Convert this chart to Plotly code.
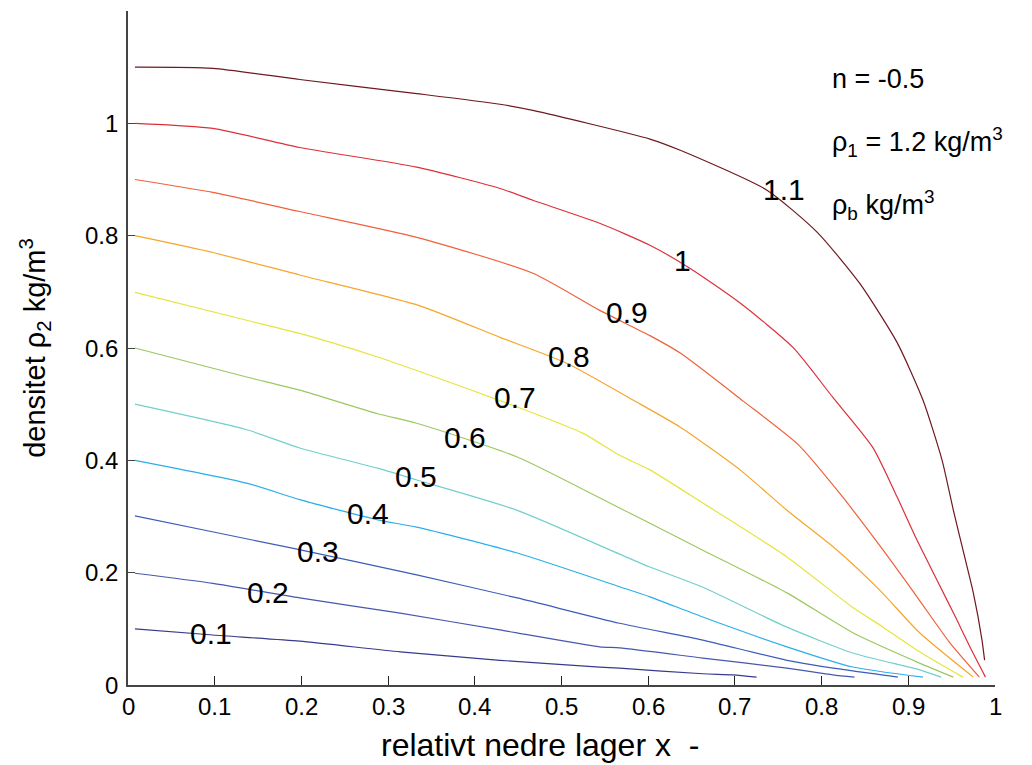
import plotly.graph_objects as go

# contour levels (rho_b)
levels = [0.1, 0.2, 0.3, 0.4, 0.5, 0.6, 0.7, 0.8, 0.9, 1.0, 1.1]
level_text = ["0.1", "0.2", "0.3", "0.4", "0.5", "0.6", "0.7", "0.8", "0.9", "1", "1.1"]

x_01 = [0.008, 0.098, 0.198, 0.314, 0.429, 0.544, 0.567, 0.663, 0.698, 0.725]
y_01 = [0.100, 0.089, 0.078, 0.059, 0.044, 0.032, 0.030, 0.020, 0.018, 0.014]

x_02 = [0.008, 0.098, 0.198, 0.314, 0.429, 0.544, 0.567, 0.663, 0.760, 0.813, 0.838]
y_02 = [0.199, 0.181, 0.155, 0.128, 0.098, 0.068, 0.066, 0.048, 0.030, 0.018, 0.014]

x_03 = [0.008, 0.100, 0.188, 0.333, 0.449, 0.567, 0.663, 0.760, 0.836, 0.888]
y_03 = [0.301, 0.272, 0.244, 0.196, 0.155, 0.110, 0.080, 0.044, 0.025, 0.014]

x_04 = [0.008, 0.138, 0.198, 0.288, 0.333, 0.449, 0.567, 0.602, 0.663, 0.760, 0.836, 0.917]
y_04 = [0.400, 0.359, 0.330, 0.294, 0.281, 0.235, 0.175, 0.157, 0.121, 0.068, 0.032, 0.014]

x_05 = [0.008, 0.138, 0.198, 0.288, 0.333, 0.449, 0.567, 0.602, 0.663, 0.760, 0.836, 0.913, 0.938]
y_05 = [0.500, 0.454, 0.422, 0.386, 0.365, 0.311, 0.233, 0.210, 0.174, 0.103, 0.057, 0.027, 0.014]

x_06 = [0.008, 0.138, 0.198, 0.288, 0.333, 0.449, 0.567, 0.602, 0.663, 0.760, 0.836, 0.913, 0.952]
y_06 = [0.600, 0.548, 0.525, 0.483, 0.466, 0.406, 0.315, 0.288, 0.240, 0.164, 0.093, 0.039, 0.014]

x_07 = [0.008, 0.138, 0.198, 0.288, 0.333, 0.449, 0.525, 0.567, 0.602, 0.663, 0.760, 0.836, 0.871, 0.910, 0.963]
y_07 = [0.699, 0.649, 0.626, 0.584, 0.560, 0.495, 0.448, 0.409, 0.383, 0.324, 0.228, 0.138, 0.103, 0.062, 0.014]

x_08 = [0.008, 0.098, 0.198, 0.335, 0.429, 0.506, 0.583, 0.637, 0.706, 0.760, 0.818, 0.867, 0.913, 0.975]
y_08 = [0.800, 0.770, 0.730, 0.676, 0.619, 0.573, 0.507, 0.459, 0.383, 0.311, 0.240, 0.169, 0.093, 0.014]

x_09 = [0.008, 0.098, 0.198, 0.333, 0.467, 0.544, 0.602, 0.637, 0.710, 0.773, 0.821, 0.871, 0.910, 0.948, 0.982]
y_09 = [0.900, 0.877, 0.843, 0.797, 0.733, 0.667, 0.622, 0.591, 0.505, 0.428, 0.341, 0.240, 0.157, 0.075, 0.014]

x_10 = [0.008, 0.098, 0.198, 0.333, 0.429, 0.467, 0.544, 0.602, 0.648, 0.706, 0.767, 0.813, 0.859, 0.887, 0.910, 0.933, 0.956, 0.971, 0.989]
y_10 = [1.000, 0.991, 0.957, 0.922, 0.884, 0.863, 0.822, 0.783, 0.742, 0.680, 0.601, 0.512, 0.423, 0.335, 0.258, 0.187, 0.116, 0.068, 0.014]

x_11 = [0.008, 0.098, 0.198, 0.333, 0.429, 0.467, 0.602, 0.637, 0.737, 0.795, 0.844, 0.887, 0.917, 0.939, 0.952, 0.965, 0.975, 0.985, 0.988]
y_11 = [1.100, 1.098, 1.078, 1.053, 1.034, 1.023, 0.972, 0.952, 0.881, 0.806, 0.715, 0.610, 0.507, 0.400, 0.311, 0.228, 0.164, 0.080, 0.044]

# contour label positions
label_x = [0.096, 0.161, 0.219, 0.277, 0.332, 0.389, 0.446, 0.509, 0.576, 0.639, 0.757]
label_y = [0.091, 0.164, 0.238, 0.306, 0.372, 0.441, 0.511, 0.584, 0.664, 0.756, 0.883]

line_colors = ["#383a8c", "#4658ac", "#3b5cba", "#2aaeea", "#72cfcc", "#9cc862",
               "#e6e43e", "#f7a52a", "#f0603a", "#dc3038", "#6e1820"]

x_ticks = [0, 0.1, 0.2, 0.3, 0.4, 0.5, 0.6, 0.7, 0.8, 0.9, 1.0]
x_ticktext = ["0", "0.1", "0.2", "0.3", "0.4", "0.5", "0.6", "0.7", "0.8", "0.9", "1"]
y_ticks = [0, 0.2, 0.4, 0.6, 0.8, 1.0]
y_ticktext = ["0", "0.2", "0.4", "0.6", "0.8", "1"]

series_x = [x_01, x_02, x_03, x_04, x_05, x_06, x_07, x_08, x_09, x_10, x_11]
series_y = [y_01, y_02, y_03, y_04, y_05, y_06, y_07, y_08, y_09, y_10, y_11]

FONT = "Liberation Sans, Arial, sans-serif"

fig = go.Figure()
for lev, xs, ys, col in zip(levels, series_x, series_y, line_colors):
    fig.add_trace(go.Scatter(x=xs, y=ys, mode="lines", name=str(lev),
                             line=dict(color=col, width=1.2, shape="spline", smoothing=0.6),
                             showlegend=False, hoverinfo="skip"))

annotations = []
for txt, lx, ly in zip(level_text, label_x, label_y):
    annotations.append(dict(x=lx, y=ly, xref="x", yref="y", text=txt, showarrow=False,
                            font=dict(family=FONT, size=30, color="black"),
                            xanchor="center", yanchor="middle"))

# tick labels as text placed at the axis tick values
for tv, tt in zip(x_ticks, x_ticktext):
    annotations.append(dict(x=tv, y=0, xref="x", yref="paper", text=tt, showarrow=False,
                            font=dict(family=FONT, size=24, color="black"),
                            xanchor="center", yanchor="middle", yshift=-21))
for tv, tt in zip(y_ticks, y_ticktext):
    annotations.append(dict(x=0, y=tv, xref="paper", yref="y", text=tt, showarrow=False,
                            font=dict(family=FONT, size=24, color="black"),
                            xanchor="right", yanchor="middle", xshift=-8))

# x-axis title
annotations.append(dict(x=0.29, y=0, xref="paper", yref="paper", text="relativt nedre lager x  -",
                        showarrow=False, font=dict(family=FONT, size=32, color="black"),
                        xanchor="left", yanchor="middle", yshift=-60))

info_lines = ["n = -0.5", "ρ<sub>1</sub> = 1.2 kg/m<sup>3</sup>", "ρ<sub>b</sub> kg/m<sup>3</sup>"]
info_y = [1.079, 0.967, 0.855]
for txt, iy in zip(info_lines, info_y):
    annotations.append(dict(x=0.810, y=iy, xref="x", yref="y", text=txt, showarrow=False,
                            font=dict(family=FONT, size=27, color="black"),
                            xanchor="left", yanchor="middle"))

fig.update_layout(
    width=1032, height=765, autosize=False,
    margin=dict(l=120, r=45, t=3, b=88),
    paper_bgcolor="white", plot_bgcolor="white",
    font=dict(family=FONT, color="black"),
    annotations=annotations,
    xaxis=dict(range=[0, 1], tickvals=x_ticks, ticks="inside", ticklen=9,
               tickcolor="#222222", tickwidth=1, showline=True, linecolor="#444444", linewidth=1.5,
               showgrid=False, zeroline=False, mirror=False, automargin=False,
               showticklabels=False),
    yaxis=dict(range=[0, 1.2], tickvals=y_ticks, ticks="inside", ticklen=7,
               tickcolor="#444444", tickwidth=1, showline=True, linecolor="#444444", linewidth=1.5,
               showgrid=False, zeroline=False, mirror=False, automargin=False,
               showticklabels=False,
               title=dict(text="densitet ρ<sub>2</sub> kg/m<sup>3</sup>",
                          font=dict(family=FONT, size=29, color="black"), standoff=72)),
)

fig.write_html("out.html")
